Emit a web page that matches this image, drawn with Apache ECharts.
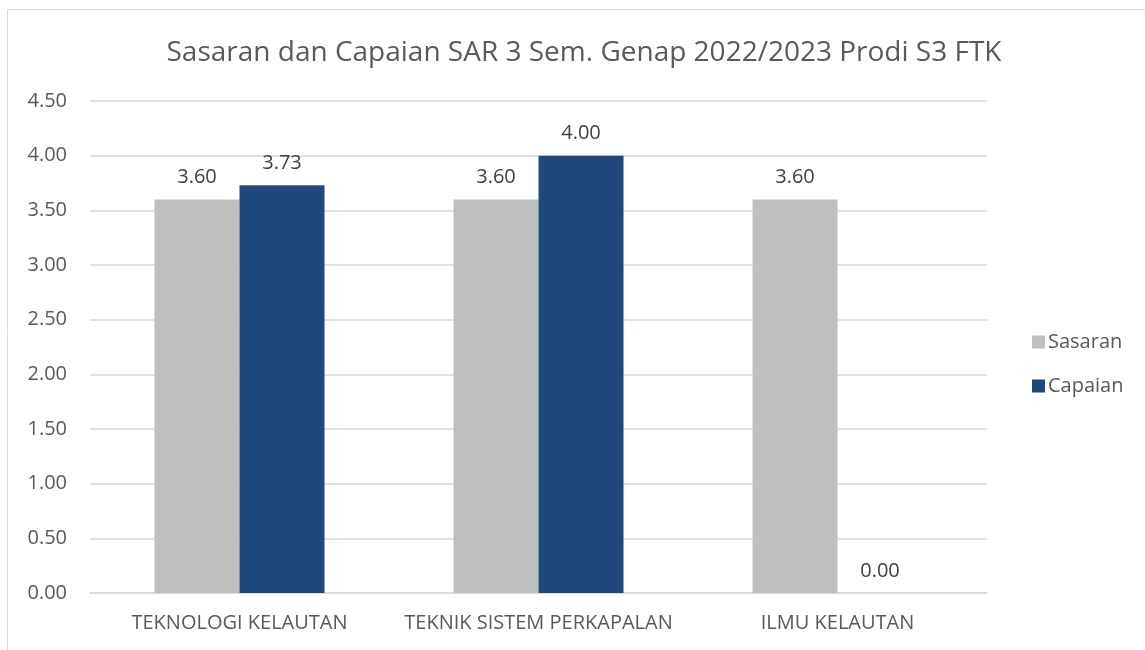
<!DOCTYPE html>
<html><head><meta charset="utf-8">
<script src="https://cdn.jsdelivr.net/npm/echarts@6/dist/echarts.min.js"></script>
<style>html,body{margin:0;padding:0;background:#fff}#c{width:1145px;height:650px}</style>
</head><body><div id="c"></div>
<script>
const categories = ["TEKNOLOGI KELAUTAN", "TEKNIK SISTEM PERKAPALAN", "ILMU KELAUTAN"];
const sasaran = [3.60, 3.60, 3.60];
const capaian = [3.73, 4.00, 0.00];
const titleText = "Sasaran dan Capaian SAR 3 Sem. Genap 2022/2023 Prodi S3 FTK";
const font = "'Open Sans', 'Noto Sans', sans-serif";
const chart = echarts.init(document.getElementById('c'));
const lbl = {show:true, position:'top', distance:12, color:'#404040', fontSize:20, fontFamily:font, formatter:p=>p.value.toFixed(2)};
chart.setOption({
  animation:false,
  graphic:[{type:'rect', shape:{x:7.5,y:9.5,width:1200,height:700}, style:{fill:'none', stroke:'#d9d9d9', lineWidth:1}, silent:true}],
  title:{text:titleText, left:579, textAlign:'center', top:34, textStyle:{fontFamily:font, fontSize:28, fontWeight:'normal', color:'#595959'}},
  legend:{orient:'vertical', left:1027, top:327, itemWidth:13, itemHeight:13, itemGap:24, icon:'rect',
    textStyle:{fontFamily:font, fontSize:20, lineHeight:20, color:'#595959', padding:[0,0,0,-2]}, data:['Sasaran','Capaian']},
  grid:{left:90, right:158, top:101, bottom:57},
  xAxis:{type:'category', data:categories, axisTick:{show:false},
    axisLine:{lineStyle:{color:'#d9d9d9', width:1.5}},
    axisLabel:{color:'#595959', fontSize:20, fontFamily:font, margin:20, interval:0}},
  yAxis:{type:'value', min:0, max:4.5, interval:0.5,
    axisLabel:{color:'#595959', fontSize:20, fontFamily:font, margin:23, formatter:v=>v.toFixed(2)},
    splitLine:{lineStyle:{color:'#d9d9d9', width:1.5}}, axisLine:{show:false}, axisTick:{show:false}},
  series:[
    {name:'Sasaran', type:'bar', data:sasaran, barWidth:85, barGap:'0%', itemStyle:{color:'#BFBFBF'}, label:lbl},
    {name:'Capaian', type:'bar', data:capaian, barWidth:85, barGap:'0%', itemStyle:{color:'#1F497D'}, label:lbl}
  ]
});
</script></body></html>
